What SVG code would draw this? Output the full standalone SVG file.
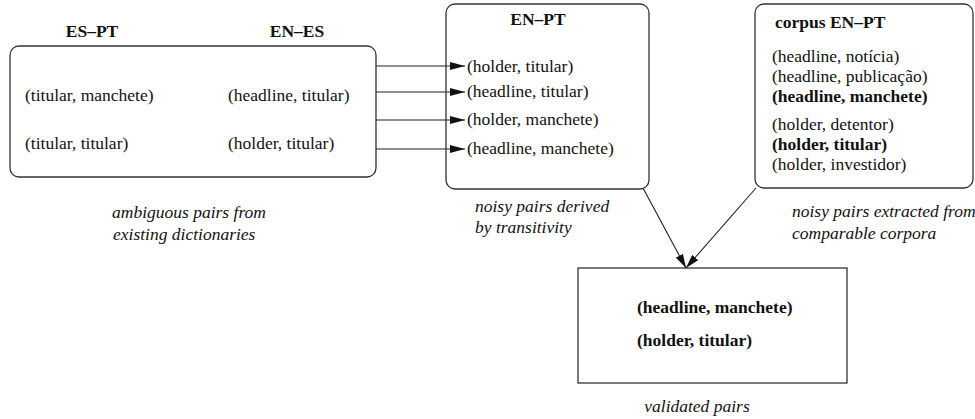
<svg xmlns="http://www.w3.org/2000/svg" width="975" height="419" viewBox="0 0 975 419">
<style>
text{font-family:"Liberation Serif","DejaVu Serif","Noto Serif",serif;font-size:17.5px;fill:#111}
.b{font-weight:bold}
.i{font-style:italic}
.box{fill:#fff;stroke:#333;stroke-width:1.3}
.con{stroke:#222;stroke-width:1.1;fill:none}
</style>
<defs>
<marker id="ah" markerWidth="15" markerHeight="8" refX="15" refY="4" orient="auto" markerUnits="userSpaceOnUse">
<path d="M0,0 L15,4 L0,8 Z" fill="#111"/>
</marker>
<marker id="ah2" markerWidth="14" markerHeight="8" refX="14" refY="4" orient="auto" markerUnits="userSpaceOnUse">
<path d="M0,0 L14,4 L0,8 Z" fill="#111"/>
</marker>
</defs>

<g id="dictionaries">
<rect class="box" x="10" y="46" width="366" height="131" rx="9"/>
<text class="b" x="92" y="37" text-anchor="middle">ES–PT</text>
<text class="b" x="297" y="37" text-anchor="middle">EN–ES</text>
<text x="25" y="101">(titular, manchete)</text>
<text x="25" y="149">(titular, titular)</text>
<text x="228" y="101">(headline, titular)</text>
<text x="228" y="149">(holder, titular)</text>
<text class="i" x="112" y="218">ambiguous pairs from</text>
<text class="i" x="113" y="240">existing dictionaries</text>
</g>

<g id="en-pt">
<rect class="box" x="446" y="4" width="203" height="185" rx="9"/>
<text class="b" x="538" y="25" text-anchor="middle">EN–PT</text>
<text x="467" y="72">(holder, titular)</text>
<text x="467" y="97">(headline, titular)</text>
<text x="467" y="125">(holder, manchete)</text>
<text x="467" y="154">(headline, manchete)</text>
<text class="i" x="475" y="212">noisy pairs derived</text>
<text class="i" x="475" y="233">by transitivity</text>
</g>

<g id="corpus">
<rect class="box" x="755" y="4" width="218" height="184" rx="9"/>
<text class="b" x="775" y="28">corpus EN–PT</text>
<text x="772" y="62">(headline, notícia)</text>
<text x="772" y="82">(headline, publicação)</text>
<text class="b" x="772" y="102">(headline, manchete)</text>
<text x="772" y="130">(holder, detentor)</text>
<text class="b" x="772" y="150">(holder, titular)</text>
<text x="772" y="170">(holder, investidor)</text>
<text class="i" x="792" y="217">noisy pairs extracted from</text>
<text class="i" x="792" y="239">comparable corpora</text>
</g>

<g id="validated">
<rect class="box" x="578" y="268" width="269" height="115" fill="#fff"/>
<text class="b" x="637" y="313">(headline, manchete)</text>
<text class="b" x="637" y="346">(holder, titular)</text>
<text class="i" x="697" y="412" text-anchor="middle">validated pairs</text>
</g>

<g id="connectors">
<line class="con" x1="376" y1="66" x2="465" y2="66" marker-end="url(#ah)"/>
<line class="con" x1="376" y1="92" x2="465" y2="92" marker-end="url(#ah)"/>
<line class="con" x1="376" y1="120" x2="465" y2="120" marker-end="url(#ah)"/>
<line class="con" x1="376" y1="149" x2="465" y2="149" marker-end="url(#ah)"/>
<line class="con" x1="643" y1="188" x2="686" y2="268" marker-end="url(#ah2)"/>
<line class="con" x1="756" y1="188" x2="686" y2="268" marker-end="url(#ah2)"/>
</g>
</svg>
